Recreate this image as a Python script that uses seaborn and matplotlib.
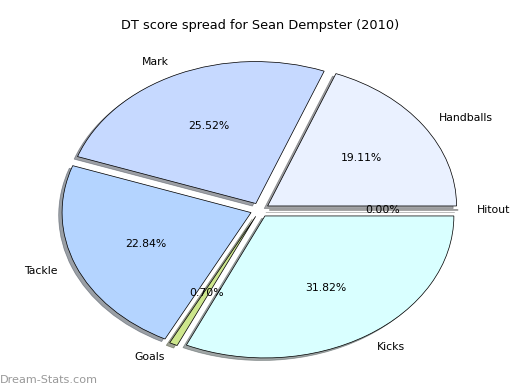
import matplotlib
matplotlib.use("Agg")
import matplotlib.pyplot as plt
import seaborn as sns

sns.set_style("white")
plt.rcParams['font.family'] = ['DejaVu Sans']
plt.rcParams['text.color'] = 'black'

labels = ["Handballs", "Mark", "Tackle", "Goals", "Kicks", "Hitout"]
values = [19.11, 25.52, 22.84, 0.70, 31.82, 0.00]
colors = ["#EAF1FF", "#C6D9FF", "#B4D4FF", "#CDE68C", "#D9FFFF", "#FFFFFF"]
title = "DT score spread for Sean Dempster (2010)"
watermark = "Dream-Stats.com"

fig = plt.figure(figsize=(8, 6), dpi=65)
ax = fig.add_axes([0, 0, 1, 1])
ax.pie(values, labels=labels, colors=colors, explode=[0.05] * len(values),
       autopct="%1.2f%%", shadow=True, startangle=0,
       wedgeprops=dict(edgecolor="black", linewidth=0.8),
       textprops=dict(fontsize=12, color="black"))
ax.set_aspect("auto")
ax.set_xlim(-1.375, 1.377)
ax.set_ylim(-1.268, 1.479)
ax.axis("off")
fig.text(0.5, 1 - 25 / 390, title, ha="center", va="center", fontsize=14.3, color="black")
fig.text(0.0, 1 - 380 / 390, watermark, ha="left", va="center", fontsize=12.5,
         color="#999999", family=["DejaVu Sans"])
fig.savefig("out.png", dpi=65)
